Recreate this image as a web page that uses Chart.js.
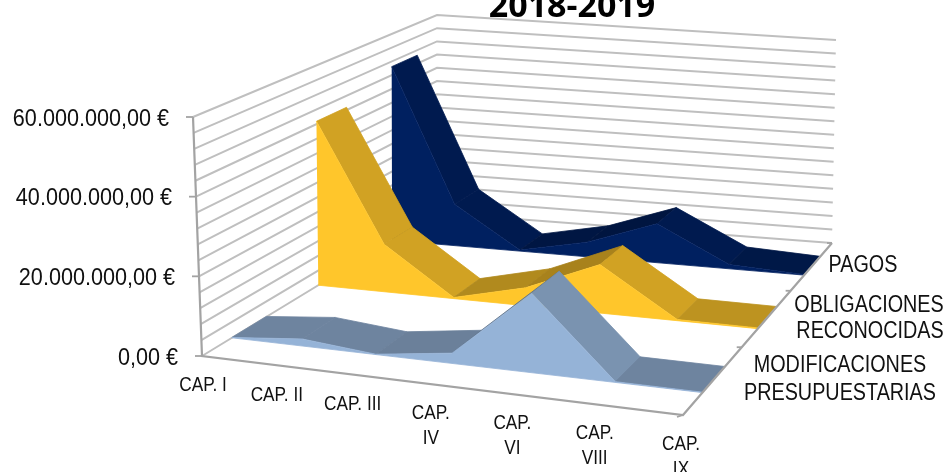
<!DOCTYPE html>
<html><head><meta charset="utf-8">
<style>html,body{margin:0;padding:0;background:#fff;overflow:hidden}#wrap{width:945px;height:472px}canvas{display:block}</style>
<script src="https://cdn.jsdelivr.net/npm/chart.js@4"></script>
</head><body><div id="wrap"><canvas id="c" width="945" height="472"></canvas></div>
<script>
const titleText = "2018-2019";
const categories = [["CAP. I"],["CAP. II"],["CAP. III"],["CAP.","IV"],["CAP.","VI"],["CAP.","VIII"],["CAP.","IX"]];
const seriesNames = [["MODIFICACIONES","PRESUPUESTARIAS"],["OBLIGACIONES","RECONOCIDAS"],["PAGOS"]];
const modificaciones = [100000, 1800000, 100000, 2600000, 20000000, 200000, 100000];
const obligaciones   = [44800000, 12900000, 300000, 4800000, 13000000, 300000, 200000];
const pagos          = [50500000, 12000000, 300000, 4200000, 11100000, 1200000, 200000];
const valueTicks = [0, 20000000, 40000000, 60000000];
const valueTickLabels = ["0,00 €","20.000.000,00 €","40.000.000,00 €","60.000.000,00 €"];
const gridStep = 4000000;
const axisMax = 60000000;

const FLOOR = [[202,356],[683,415],[832,243],[437,213]];
const CEIL  = [[193,117],[692,170],[836,40],[437,15]];
const BAND_FRONT = 0.31, BAND_BACK = 0.69, U_END = 1;
const CAT_LABEL_DX = [1,3,4,4,4,1,-2];
const CAT_LABEL_DY = [29,30,30,30,30,29,29];

function homography(q){
  const [[x0,y0],[x1,y1],[x2,y2],[x3,y3]] = q;
  const dx1=x1-x2,dx2=x3-x2,sx=x0-x1+x2-x3,dy1=y1-y2,dy2=y3-y2,sy=y0-y1+y2-y3;
  const d=dx1*dy2-dx2*dy1, g=(sx*dy2-dx2*sy)/d, h=(dx1*sy-sx*dy1)/d;
  const a=x1-x0+g*x1,b=x3-x0+h*x3,c=x0,e=y1-y0+g*y1,f=y3-y0+h*y3,i=y0;
  return (u,v)=>{const w=g*u+h*v+1;return [(a*u+b*v+c)/w,(e*u+f*v+i)/w];};
}
const hFloor=homography(FLOOR), hCeil=homography(CEIL);
function project(u,v,val){
  const p=hFloor(u,v), q=hCeil(u,v), t=val/axisMax;
  return {x:p[0]+(q[0]-p[0])*t, y:p[1]+(q[1]-p[1])*t};
}
function shade(hex,f){
  const n=parseInt(hex.slice(1),16);
  return `rgb(${Math.round((n>>16)*f)},${Math.round(((n>>8)&255)*f)},${Math.round((n&255)*f)})`;
}
const layers=[];
function shape(points,color){
  layers.push({data:points,showLine:true,fill:'shape',backgroundColor:color,borderColor:color,borderWidth:0.8,pointRadius:0,tension:0});
}
function stroke(points,color,width){
  layers.push({data:points,showLine:true,fill:false,borderColor:color,borderWidth:width,pointRadius:0,tension:0});
}
const GRID="#BFBFBF", AXIS="#A3A3A3";
for(let val=0;val<=axisMax;val+=gridStep){
  stroke([project(0,0,val),project(0,1,val),project(1,1,val)],GRID,2);
}
const seriesList=[[modificaciones,"#95B3D7"],[obligaciones,"#FFC62B"],[pagos,"#002060"]];
for(let s=seriesList.length-1;s>=0;s--){
  const [vals,col]=seriesList[s];
  const vf=(s+BAND_FRONT)/3, vb=(s+BAND_BACK)/3, n=vals.length-1;
  const uOf=i=>i/n*U_END;
  for(let i=0;i<n;i++){
    const d=(vals[i+1]-vals[i])/10000000;
    const m=Math.abs(d)<0.25?0:Math.min(Math.abs(d),1);
    const f=d>0?0.74-m*0.1:0.74+m*0.08;
    shape([project(uOf(i),vf,vals[i]),project(uOf(i),vb,vals[i]),project(uOf(i+1),vb,vals[i+1]),project(uOf(i+1),vf,vals[i+1])],shade(col,f));
  }
  const front=vals.map((v,i)=>project(uOf(i),vf,v));
  front.push(project(U_END,vf,0),project(0,vf,0));
  shape(front,col);
}
stroke([project(0,0,axisMax),project(0,0,0),project(1,0,0),project(1,1,0)],AXIS,2.2);
const tickLeft=valueTicks.map(v=>{const p=project(0,0,v);return {x:p.x-7,y:p.y};});
valueTicks.forEach((v,i)=>stroke([tickLeft[i],project(0,0,v)],AXIS,1.8));
for(let k=0;k<=3;k++){const p=project(1,k/3,0);stroke([p,{x:p.x+(k===0?-6:-5),y:p.y+(k===0?2:0)}],AXIS,1.8);}

function putText(ctx,t,x,y,sx){ctx.save();ctx.translate(x,y);ctx.scale(sx,1);ctx.fillText(t,0,0);ctx.restore();}
const textPlugin={id:'text3d',afterDraw(chart){
  const ctx=chart.ctx, sans='"Liberation Sans",sans-serif';
  ctx.save();
  ctx.fillStyle="#000";ctx.textBaseline="alphabetic";
  ctx.font='bold 34px "Open Sans",sans-serif';ctx.textAlign="center";
  ctx.fillText(titleText,572,17);
  ctx.fillStyle="#111";ctx.textBaseline="middle";
  ctx.font='24px '+sans;ctx.textAlign="right";
  valueTickLabels.forEach((t,i)=>putText(ctx,t,tickLeft[i].x-17,tickLeft[i].y+2,0.9));
  ctx.font='21px '+sans;ctx.textAlign="center";
  const n=categories.length-1;
  categories.forEach((lines,i)=>{
    const p=project(i/n,0,0);
    lines.forEach((t,j)=>putText(ctx,t,p.x+CAT_LABEL_DX[i],p.y+CAT_LABEL_DY[i]+j*25,0.82));
  });
  ctx.font='23px '+sans;
  const names=[[[840,366],[840,394]],[[869,306],[870,332]],[[863,266]]];
  seriesNames.forEach((lines,s)=>{
    lines.forEach((t,j)=>putText(ctx,t,names[s][j][0],names[s][j][1],0.86));
  });
  ctx.restore();
}};
new Chart(document.getElementById('c'),{
  type:'scatter',
  data:{datasets:layers.slice().reverse()},
  options:{responsive:false,animation:false,layout:{padding:0},
    plugins:{legend:{display:false},title:{display:false},tooltip:{enabled:false}},
    scales:{x:{type:'linear',min:0,max:945,display:false},y:{type:'linear',min:0,max:472,reverse:true,display:false}}},
  plugins:[textPlugin]
});
</script></body></html>
